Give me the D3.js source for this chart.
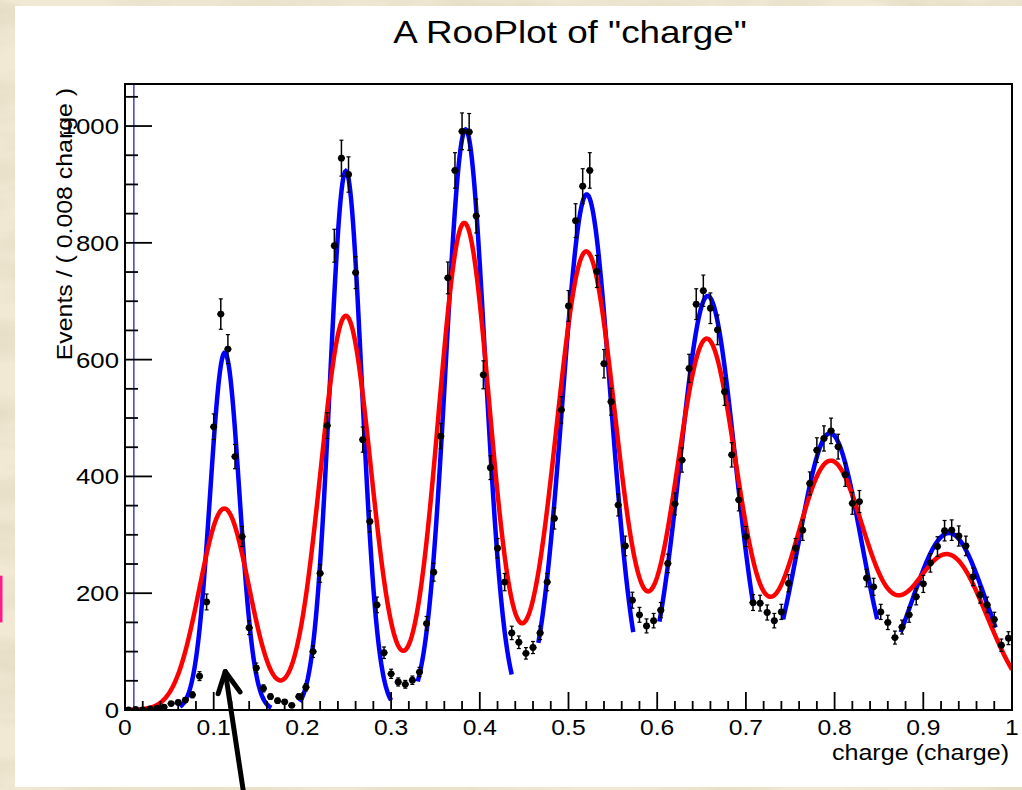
<!DOCTYPE html>
<html>
<head>
<meta charset="utf-8">
<script src="https://cdn.jsdelivr.net/npm/d3@7"></script>
<style>
  html, body { margin: 0; padding: 0; background: #efe6cf; }
  svg { display: block; }
  text { font-family: "Liberation Sans", Arial, Helvetica, sans-serif; fill: #000; }
</style>
</head>
<body>
<svg id="chart" width="1022" height="790"></svg>
<script>
// histogram: 125 bins of 0.008 over [0, 1]
const binWidth = 0.008
const counts = [
    0, 1, 0, 2, 3, 5, 11, 13, 17, 26,
    58, 185, 485, 678, 618, 434, 297, 141, 72, 37,
    23, 16, 14, 8, 23, 39, 100, 234, 487, 795,
    945, 917, 749, 463, 323, 180, 98, 62, 48, 44,
    51, 65, 148, 236, 469, 740, 924, 991, 990, 846,
    574, 415, 277, 219, 132, 116, 97, 107, 132, 219,
    328, 514, 692, 838, 897, 924, 751, 593, 528, 351,
    281, 188, 163, 144, 153, 171, 251, 353, 428, 585,
    695, 718, 688, 651, 545, 437, 360, 297, 184, 183,
    167, 153, 168, 217, 277, 308, 388, 445, 465, 478,
    451, 403, 354, 357, 226, 211, 168, 150, 124, 142,
    163, 194, 216, 252, 280, 307, 308, 298, 281, 228,
    197, 180, 155, 111, 123
]

// blue: one gaussian per peak, each drawn over its own fit range
const blueMeans = [0.1125, 0.249, 0.384, 0.5205, 0.657, 0.795, 0.929]
const blueHeights = [612, 923, 994, 883, 709, 474, 303]
const blueSigmas = [0.0165, 0.018, 0.022, 0.027, 0.031, 0.0355, 0.0425]
const blueFrom = [0.062, 0.197, 0.330, 0.466, 0.6025, 0.742, 0.8745]
const blueTo = [0.165, 0.3006, 0.436, 0.573, 0.709, 0.848, 0.982]

// red: sum of the seven peaks over the full range
const redMeans = [0.112, 0.249, 0.3825, 0.520, 0.6557, 0.795, 0.928]
const redHeights = [345, 675, 834, 785, 634, 424, 264]
const redSigmas = [0.028, 0.0285, 0.029, 0.034, 0.035, 0.042, 0.044]

const xTicks = [0, 0.1, 0.2, 0.3, 0.4, 0.5, 0.6, 0.7, 0.8, 0.9, 1]
const xTickLabels = ["0", "0.1", "0.2", "0.3", "0.4", "0.5", "0.6", "0.7", "0.8", "0.9", "1"]
const yTicks = [0, 200, 400, 600, 800, 1000]
const yMax = 1072
const markerLine = 0.01

const title = 'A RooPlot of "charge"'
const xTitle = "charge (charge)"
const yTitle = "Events / ( 0.008 charge )"

const frame = { left: 125, right: 1012, top: 84, bottom: 710 }
const svg = d3.select("#chart")

const x = d3.scaleLinear().domain([0, 1]).range([frame.left, frame.right])
const y = d3.scaleLinear().domain([0, yMax]).range([frame.bottom, frame.top])

/* stretch text along its reading direction, the reference font runs wide */
function widen(sel, k) {
    sel.each(function () {
        const w = this.getComputedTextLength()
        d3.select(this).attr("textLength", w * k).attr("lengthAdjust", "spacingAndGlyphs")
    })
    return sel
}

// parchment background
const defs = svg.append("defs")
const filt = defs.append("filter").attr("id", "paper").attr("x", 0).attr("y", 0).attr("width", "100%").attr("height", "100%")
filt.append("feTurbulence").attr("type", "fractalNoise").attr("baseFrequency", "0.008 0.025").attr("numOctaves", 4).attr("seed", 7).attr("result", "n")
filt.append("feColorMatrix").attr("in", "n").attr("type", "matrix")
    .attr("values", "0 0 0 0 0.55  0 0 0 0 0.47  0 0 0 0 0.33  0 0 0 -1.6 1.0")
defs.append("clipPath").attr("id", "plotclip").append("rect")
    .attr("x", frame.left).attr("y", frame.top)
    .attr("width", frame.right - frame.left).attr("height", frame.bottom - frame.top)

svg.append("rect").attr("width", 1022).attr("height", 790).attr("fill", "#f1e9d4")
svg.append("rect").attr("width", 1022).attr("height", 790).attr("filter", "url(#paper)").attr("opacity", 0.4)

// pink sliver at left edge
svg.append("rect").attr("x", 0).attr("y", y(230)).attr("width", 2.5).attr("height", y(150) - y(230)).attr("fill", "#ff1a8c")

// white canvas
svg.append("rect").attr("x", 15).attr("y", 6).attr("width", 1007).attr("height", 781).attr("fill", "#fff")

// title
widen(svg.append("text").attr("x", 570).attr("y", 43).attr("text-anchor", "middle")
    .attr("font-size", 32).text(title), 1.15)

const plot = svg.append("g").attr("clip-path", "url(#plotclip)")

// thin blue vertical line near the left edge
plot.append("line")
    .attr("x1", x(markerLine)).attr("x2", x(markerLine))
    .attr("y1", frame.top).attr("y2", frame.bottom)
    .attr("stroke", "#1010c0").attr("stroke-width", 1.2)

const gauss = (t, m, h, s) => h * Math.exp(-((t - m) * (t - m)) / (2 * s * s))
const line = d3.line().x(d => x(d[0])).y(d => y(d[1]))

// blue per-peak curves
blueMeans.forEach((m, i) => {
    const pts = d3.range(blueFrom[i], blueTo[i] + 1e-9, 0.001)
        .map(t => [t, gauss(t, m, blueHeights[i], blueSigmas[i])])
    plot.append("path").attr("d", line(pts))
        .attr("fill", "none").attr("stroke", "#0000ff").attr("stroke-width", 4.5)
})

// red total curve
const redPts = d3.range(0, 1.0005, 0.001).map(t => [t, d3.sum(redMeans, (m, i) => gauss(t, m, redHeights[i], redSigmas[i]))])
plot.append("path").attr("d", line(redPts))
    .attr("fill", "none").attr("stroke", "#ff0000").attr("stroke-width", 4.5)

// data points with poisson error bars
const bins = counts.map((c, i) => ({ x: (i + 0.5) * binWidth, n: c, e: Math.max(Math.sqrt(c), 1) }))
const pt = plot.append("g").selectAll("g").data(bins).join("g")
pt.append("line")
    .attr("x1", d => x(d.x)).attr("x2", d => x(d.x))
    .attr("y1", d => y(d.n + d.e)).attr("y2", d => y(Math.max(d.n - d.e, 0)))
    .attr("stroke", "#000").attr("stroke-width", 1.5)
pt.append("line")
    .attr("x1", d => x(d.x - binWidth / 2)).attr("x2", d => x(d.x + binWidth / 2))
    .attr("y1", d => y(d.n)).attr("y2", d => y(d.n))
    .attr("stroke", "#000").attr("stroke-width", 1.5)
pt.selectAll(".cap").data(d => [d.n + d.e, Math.max(d.n - d.e, 0)].map(v => ({ x: d.x, v: v })))
    .join("line").attr("class", "cap")
    .attr("x1", d => x(d.x) - 2).attr("x2", d => x(d.x) + 2)
    .attr("y1", d => y(d.v)).attr("y2", d => y(d.v))
    .attr("stroke", "#000").attr("stroke-width", 1.2)
pt.append("circle")
    .attr("cx", d => x(d.x)).attr("cy", d => y(d.n)).attr("r", 3.4).attr("fill", "#000")

// axes, ROOT style ticks inside the frame
const xMinor = d3.range(0, 1.0001, 0.02)
svg.append("g").selectAll("line").data(xMinor).join("line")
    .attr("x1", d => x(d)).attr("x2", d => x(d))
    .attr("y1", frame.bottom).attr("y2", (d, i) => frame.bottom - (i % 5 === 0 ? 18 : 9))
    .attr("stroke", "#000").attr("stroke-width", 1.8)

const yMinor = d3.range(0, yMax, 50)
svg.append("g").selectAll("line").data(yMinor).join("line")
    .attr("x1", frame.left).attr("x2", (d, i) => frame.left + (i % 4 === 0 ? 27 : 13))
    .attr("y1", d => y(d)).attr("y2", d => y(d))
    .attr("stroke", "#000").attr("stroke-width", 1.8)

svg.append("rect")
    .attr("x", frame.left).attr("y", frame.top)
    .attr("width", frame.right - frame.left).attr("height", frame.bottom - frame.top)
    .attr("fill", "none").attr("stroke", "#000").attr("stroke-width", 2)

widen(svg.append("g").selectAll("text").data(xTicks).join("text")
    .attr("x", d => x(d)).attr("y", 735).attr("text-anchor", "middle")
    .attr("font-size", 22).text((d, i) => xTickLabels[i]), 1.12)

widen(svg.append("g").selectAll("text").data(yTicks).join("text")
    .attr("x", frame.left - 6).attr("y", d => y(d)).attr("dy", "0.36em").attr("text-anchor", "end")
    .attr("font-size", 22).text(d => d), 1.17)

widen(svg.append("text").attr("x", 1009).attr("y", 760).attr("text-anchor", "end")
    .attr("font-size", 22).text(xTitle), 1.14)

widen(svg.append("text").attr("transform", "translate(72,88) rotate(-90)")
    .attr("text-anchor", "end").attr("font-size", 22).text(yTitle), 1.13)

// annotation arrow pointing at the first peak
const arrowTail = [0.1335, -140]
const arrowTip = [0.113, 66]
const arrowWings = [[0.105, 28], [0.1297, 31]]
const ann = svg.append("g").attr("fill", "none").attr("stroke", "#000")
    .attr("stroke-width", 5).attr("stroke-linecap", "round").attr("stroke-linejoin", "round")
ann.append("path").attr("d", line([arrowTail, arrowTip]))
ann.append("path").attr("d", line([arrowWings[0], arrowTip, arrowWings[1]]))
</script>
</body>
</html>
